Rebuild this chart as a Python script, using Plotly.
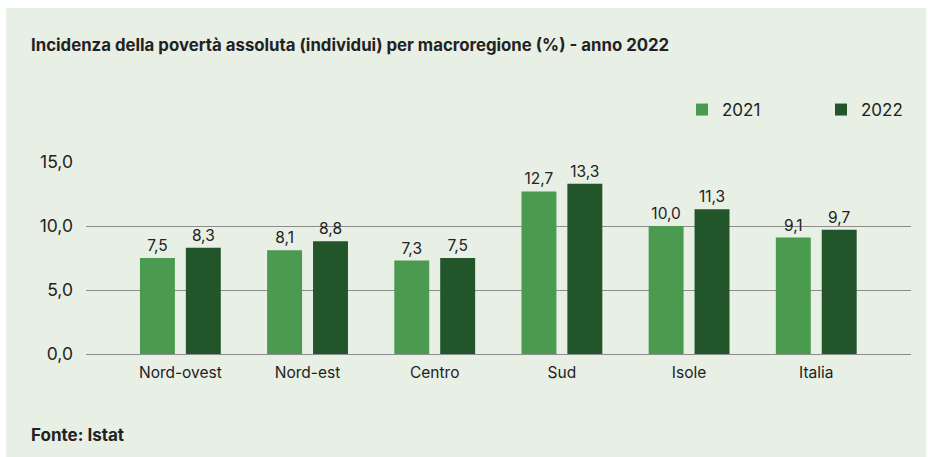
import plotly.graph_objects as go

categories = ["Nord-ovest", "Nord-est", "Centro", "Sud", "Isole", "Italia"]
values_2021 = [7.5, 8.1, 7.3, 12.7, 10.0, 9.1]
values_2022 = [8.3, 8.8, 7.5, 13.3, 11.3, 9.7]
series_names = ["2021", "2022"]
y_ticks = [0, 5, 10, 15]

title_text = "Incidenza della povertà assoluta (individui) per macroregione (%) - anno 2022"
source_text = "Fonte: Istat"

C_LIGHT = "#4a9a4f"
C_DARK = "#23552b"
BG = "#e8efe5"
TXT = "#222222"
FONT = "Inter"

W, H = 928, 457
L, R, T, B = 86, 17, 162, 103
pw, ph = W - L - R, H - T - B

fig = go.Figure()
for name, vals, col in [(series_names[0], values_2021, C_LIGHT), (series_names[1], values_2022, C_DARK)]:
    fig.add_trace(go.Bar(
        x=categories, y=vals, name=name, marker_color=col, marker_line_width=0,
        texttemplate="%{y:.1f}", textposition="outside", cliponaxis=False,
        textfont=dict(family=FONT, size=15.5, color=TXT),
    ))

fig.update_layout(
    width=W, height=H,
    margin=dict(l=L, r=R, t=T, b=B, autoexpand=False),
    paper_bgcolor="white", plot_bgcolor="rgba(0,0,0,0)",
    separators=",.",
    barmode="group", bargap=0.278, bargroupgap=0.239,
    font=dict(family=FONT, color=TXT),
    showlegend=True,
    legend=dict(orientation="h", x=(682 - L) / pw, xanchor="left",
                y=(H - B - 110) / ph, yanchor="middle",
                font=dict(family=FONT, size=17, color=TXT),
                entrywidth=94, bgcolor="rgba(0,0,0,0)"),
    xaxis=dict(range=[-0.742, 5.745], showgrid=False, showline=False, zeroline=False,
               tickfont=dict(family=FONT, size=15.5, color=TXT), ticks="",
               ticklabelstandoff=7),
    yaxis=dict(range=[0, 15], tickvals=y_ticks, tickformat=".1f",
               showgrid=True, gridcolor="#8c8c8c", gridwidth=1,
               zeroline=True, zerolinecolor="#8c8c8c", zerolinewidth=1,
               showline=False, ticks="",
               tickfont=dict(family=FONT, size=17.5, color=TXT),
               ticklabelstandoff=12),
    shapes=[dict(type="rect", xref="paper", yref="paper",
                 x0=(6 - L) / pw, x1=(926 - L) / pw,
                 y0=(H - B - H) / ph - 0.01, y1=(H - B - 8) / ph,
                 fillcolor=BG, line_width=0, layer="below")],
    annotations=[
        dict(text="<b>" + title_text + "</b>", xref="paper", yref="paper",
             x=(29 - L) / pw, y=(H - B - 45) / ph, xanchor="left", yanchor="middle",
             showarrow=False, font=dict(family=FONT, size=16.8, color=TXT)),
        dict(text="<b>" + source_text + "</b>", xref="paper", yref="paper",
             x=(29 - L) / pw, y=(H - B - 435) / ph, xanchor="left", yanchor="middle",
             showarrow=False, font=dict(family=FONT, size=17, color=TXT)),
    ],
)

fig.write_html("out.html")
